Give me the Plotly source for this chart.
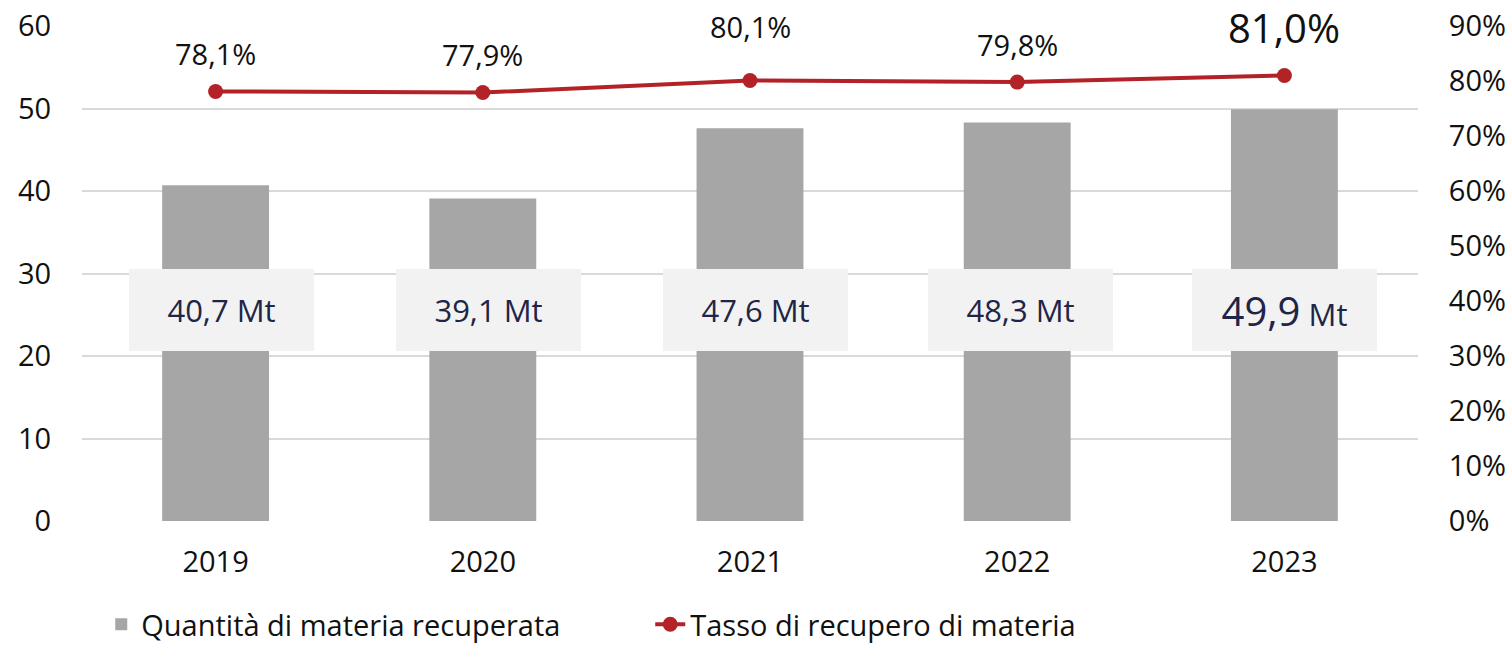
import plotly.graph_objects as go

years = ["2019", "2020", "2021", "2022", "2023"]
quantity_mt = [40.7, 39.1, 47.6, 48.3, 49.9]
recovery_rate = [78.1, 77.9, 80.1, 79.8, 81.0]
y_left_ticks = [0, 10, 20, 30, 40, 50, 60]
y_right_ticks = [0, 10, 20, 30, 40, 50, 60, 70, 80, 90]

bar_name = "Quantità di materia recuperata"
line_name = "Tasso di recupero di materia"

# label offsets (px) and which year is highlighted
rate_label_shift = [38, 38, 54, 38, 48]
box_shift = [6, 6, 5, 3, 0]
highlight = len(years) - 1

FONT = "Open Sans"
BASE = 29
BOX_FONT = 31
BIG_RATE = 40
BIG_QTY = 40
NAVY = "#1F2547"


def it_num(v):
    return f"{v:.1f}".replace(".", ",")


fig = go.Figure()

fig.add_trace(go.Bar(
    x=years, y=quantity_mt, name=bar_name,
    marker=dict(color="#A6A6A6", line=dict(width=0)),
    yaxis="y",
))

fig.add_trace(go.Scatter(
    x=years, y=recovery_rate, name=line_name,
    mode="lines+markers",
    line=dict(color="#B22227", width=4),
    marker=dict(color="#B22227", size=15),
    yaxis="y2",
))

# line value labels (category index, since the years look numeric)
for i, v in enumerate(recovery_rate):
    size = BIG_RATE if i == highlight else BASE
    fig.add_annotation(
        x=i, y=v, xref="x", yref="y2",
        text=it_num(v) + "%", showarrow=False,
        yshift=rate_label_shift[i],
        font=dict(family=FONT, size=size, color="#111111"),
    )

# bar value labels in light boxes
for i, v in enumerate(quantity_mt):
    if i == highlight:
        txt = f"<span style='font-size:{BIG_QTY}px'>{it_num(v)}</span> Mt"
    else:
        txt = f"{it_num(v)} Mt"
    fig.add_annotation(
        x=i, y=25.6, xref="x", yref="y",
        text=txt, showarrow=False, xshift=box_shift[i],
        width=185, height=82, bgcolor="#F2F2F2",
        borderpad=0, borderwidth=0,
        font=dict(family=FONT, size=BOX_FONT, color=NAVY),
    )

fig.update_layout(
    width=1511, height=645,
    margin=dict(l=82, r=93, t=26, b=124, autoexpand=False),
    paper_bgcolor="white", plot_bgcolor="white",
    font=dict(family=FONT, size=BASE, color="#111111"),
    bargap=0.6,
    showlegend=True,
    legend=dict(
        orientation="h", xref="container", x=0.067, xanchor="left",
        yref="container", y=0.032, yanchor="middle",
        font=dict(family=FONT, size=BASE, color="#111111"),
        entrywidth=504, traceorder="normal",
    ),
    xaxis=dict(
        type="category", showgrid=False, showline=False, zeroline=False,
        ticks="outside", ticklen=15, tickcolor="rgba(0,0,0,0)",
    ),
    yaxis=dict(
        range=[0, 60], tickvals=y_left_ticks,
        showgrid=True, gridcolor="#D9D9D9", gridwidth=2,
        zeroline=False, showline=False,
        ticks="outside", ticklen=24, tickcolor="rgba(0,0,0,0)",
    ),
    yaxis2=dict(
        range=[0, 90], tickvals=y_right_ticks,
        ticktext=[f"{t}%" for t in y_right_ticks],
        overlaying="y", side="right", showgrid=False, zeroline=False,
        ticks="outside", ticklen=24, tickcolor="rgba(0,0,0,0)",
    ),
)

fig.write_html(
    "out.html",
    config={"displayModeBar": False},
    post_script="document.body.style.margin='0px';",
)
